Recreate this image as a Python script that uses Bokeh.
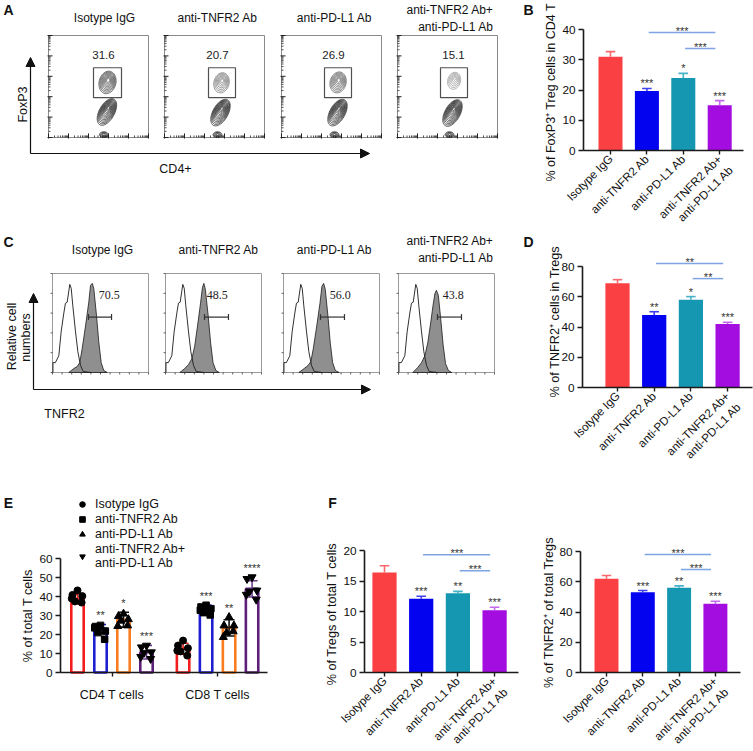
import math
import numpy as np
from bokeh.plotting import figure
from bokeh.models import (Range1d, FixedTicker, Label, Arrow, NormalHead, Legend,
                          LegendItem, LinearAxis)
from bokeh.layouts import row, column
from bokeh.embed import file_html
from bokeh.resources import INLINE
from bokeh.core.properties import value

FONT = "Liberation Sans"
SERIF = "Liberation Serif"


def fs(v):
    return f"{v:.1f}px"


# ------------------------------------------------------------------ data
treatments = ["Isotype IgG", "anti-TNFR2 Ab", "anti-PD-L1 Ab", "anti-TNFR2 Ab+\nanti-PD-L1 Ab"]
bar_colors = ["#fa4043", "#0303f0", "#1597b1", "#a30de0"]
err_colors = ["#f8686c", "#4040ee", "#45b2c8", "#c466ee"]

# Panel A : FoxP3+ gate frequencies and population shapes (decade units)
foxp3_gate_pct = [31.6, 20.7, 26.9, 15.1]
treg_cx = [2.95, 2.85, 2.83, 2.83]
treg_cy = [2.70, 2.68, 2.70, 2.78]
treg_a = [0.56, 0.50, 0.52, 0.42]
treg_b = [0.42, 0.38, 0.40, 0.32]
treg_levels = [9, 7, 8, 6]
treg_color = ["#3a3a3a", "#676767", "#505050", "#8c8c8c"]
tconv_cx = [2.92, 2.80, 2.80, 2.75]
tconv_cy = [1.25, 1.22, 1.22, 1.20]
gate_x0 = [2.25, 2.20, 2.15, 2.15]
gate_x1 = [3.65, 3.55, 3.50, 3.50]

# Panel B
b_mean = [31.0, 19.7, 24.0, 15.0]
b_sd = [1.7, 0.8, 1.5, 1.5]
b_stars = ["", "***", "*", "***"]
cmp_pairs = [(2, 4), (3, 4)]
b_cmp_stars = ["***", "***"]
b_cmp_y = [39.0, 33.7]

# Panel C : TNFR2 histograms (x: % of channel range, y: % of max)
tnfr2_gate_pct = [70.5, 48.5, 56.0, 43.8]
iso_hist_x = [0.5, 0.5, 3, 6.6, 9, 11.8, 13.5, 15.3, 18, 19.5, 21.1, 24, 26.4, 29.2, 32, 40]
iso_hist_y = [0, 10, 10, 17, 41, 60, 70, 71, 89, 85, 68, 41, 21, 7, 1, 0]
tnfr2_hist_x = [
    [17, 22.2, 25.7, 28.4, 30.9, 34.4, 37.8, 39.6, 41.4, 43, 45.8, 48.2, 50.7, 53.4, 57],
    [15, 20, 24, 27.5, 30.5, 33.5, 36.5, 38.5, 40, 41.5, 44.5, 47, 49.5, 52.5, 56],
    [16, 21.5, 25.5, 28.5, 31, 34.5, 38, 40, 41.8, 43.5, 46.3, 48.7, 51.2, 54, 58],
    [15, 20, 24, 27.5, 30.5, 33.5, 36, 38, 39.5, 41.5, 44, 46.5, 49, 52, 55.5],
]
tnfr2_hist_y = [
    [0, 4, 6, 10, 24, 47, 71, 88, 90, 85, 58, 31, 10, 2, 0],
    [0, 4, 8, 14, 27, 48, 70, 86, 90, 84, 57, 30, 10, 2, 0],
    [0, 4, 7, 11, 24, 46, 70, 87, 90, 84, 57, 30, 10, 2, 0],
    [0, 5, 10, 17, 30, 50, 68, 80, 83, 78, 54, 28, 9, 2, 0],
]
c_gate_x0 = [37.5, 40.6, 38.5, 40.6]
c_gate_x1 = [61.5, 65.6, 63.5, 65.6]

# Panel D
d_mean = [69.0, 48.0, 58.0, 42.0]
d_sd = [2.3, 2.1, 2.1, 1.1]
d_stars = ["", "**", "*", "***"]
d_cmp_stars = ["**", "**"]
d_cmp_y = [82.0, 72.0]

# Panel E
e_cells = ["CD4 T cells", "CD8 T cells"]
e_mean = [[38.8, 23.0, 27.8, 10.7], [12.5, 33.5, 23.5, 44.0]]
e_sd = [[2.6, 2.3, 3.9, 3.6], [2.9, 2.0, 4.3, 4.3]]
e_points = [
    [[43.2, 40.8, 40.2, 37.4, 36.8, 38.9],
     [24.8, 24.2, 21.8, 21.0, 17.5, 23.5],
     [30.9, 29.6, 28.0, 27.2, 24.7, 24.4],
     [14.2, 13.3, 10.7, 10.4, 7.2, 8.3]],
    [[16.8, 14.2, 12.8, 11.1, 8.9, 11.5],
     [35.4, 34.5, 33.6, 31.5, 30.3, 32.8],
     [29.1, 24.7, 24.7, 20.9, 21.6, 18.6],
     [50.2, 49.3, 43.2, 42.6, 38.4, 41.0]],
]
e_stars = [["", "**", "*", "***"], ["", "***", "**", "****"]]
e_line_colors = ["#f31d1d", "#1f1fd2", "#fb7c1e", "#5d1f7a"]
e_err_colors = ["#e51f1f", "#1f1fd2", "#111111", "#6b3d8c"]
e_markers = ["circle", "square", "triangle", "inverted_triangle"]
e_marker_size = [7, 6.5, 8, 8]
e_jitter = [0.0, -0.22, 0.21, -0.11, 0.18, -0.25]

# Panel F
f1_mean = [16.4, 12.1, 13.0, 10.2]
f1_sd = [1.1, 0.4, 0.3, 0.5]
f1_stars = ["", "***", "**", "***"]
f1_cmp_stars = ["***", "***"]
f1_cmp_y = [19.3, 16.7]
f2_mean = [62.0, 53.1, 56.0, 45.4]
f2_sd = [2.1, 1.1, 1.3, 1.7]
f2_stars = ["", "***", "**", "***"]
f2_cmp_stars = ["***", "***"]
f2_cmp_y = [78.0, 68.1]

# ------------------------------------------------------------------ layout sizes (px)
wA, wB = 500, 253
h1, h2, h3 = 232, 258, 261
wE, wF1, wF2 = 318, 220, 215


def add_label(p, x, y, text, size, angle=0.0, align="center", baseline="middle",
              bold=False, font=FONT, color="#111111"):
    p.add_layout(Label(x=x, y=y, text=text, angle=angle, text_align=align,
                       text_baseline=baseline, text_font_size=fs(size), text_font=font,
                       text_color=color, text_font_style="bold" if bold else "normal"))


def canvas(w, h, top):
    p = figure(width=w, height=h, x_range=Range1d(0, w), y_range=Range1d(top + h, top),
               x_axis_type=None, y_axis_type=None, min_border=0,
               output_backend="svg", toolbar_location=None, title=None)
    p.outline_line_color = None
    return p


def ellipse(cx, cy, a, b, ang, n=48):
    t = np.linspace(0, 2 * np.pi, n)
    ca, sa = math.cos(ang), math.sin(ang)
    x = cx + a * np.cos(t) * ca - b * np.sin(t) * sa
    y = cy + a * np.cos(t) * sa + b * np.sin(t) * ca
    return x.tolist(), y.tolist()


def arrow(p, x0, y0, x1, y1):
    p.add_layout(Arrow(end=NormalHead(size=9, fill_color="#111", line_color="#111"),
                       x_start=x0, y_start=y0, x_end=x1, y_end=y1,
                       line_color="#111", line_width=1.2))


# ------------------------------------------------------------------ Panel A
pA = canvas(wA, h1, 0)
a_left = [48, 164, 281, 397]
a_title_x = [104, 217, 334]
a_num_x = [2.75, 2.65, 2.6, 2.8]
major = list(range(0, 6))
minor = [d + math.log10(m) for d in range(5) for m in range(2, 10)]
for i in range(4):
    sub = pA.subplot(x_source=Range1d(0, 5), y_source=Range1d(0, 5),
                     x_target=Range1d(a_left[i], a_left[i] + 100),
                     y_target=Range1d(137, 35))
    sub.quad(left=[0], right=[5], bottom=[0], top=[5], fill_color=None,
             line_color="#8a8a8a", line_width=1)
    sub.segment(x0=[-0.05] * len(major), x1=[0.2] * len(major), y0=major, y1=major,
                line_color="#222", line_width=1)
    sub.segment(x0=[0] * len(minor), x1=[0.1] * len(minor), y0=minor, y1=minor,
                line_color="#222", line_width=0.8)
    sub.segment(y0=[-0.05] * len(major), y1=[0.2] * len(major), x0=major, x1=major,
                line_color="#222", line_width=1)
    sub.segment(y0=[0] * len(minor), y1=[0.1] * len(minor), x0=minor, x1=minor,
                line_color="#222", line_width=0.8)
    xs, ys = [], []
    for f in np.linspace(1.0, 0.18, treg_levels[i]):
        ex, ey = ellipse(treg_cx[i] + 0.04 * (1 - f), treg_cy[i] + 0.12 * (1 - f),
                         treg_a[i] * f, treg_b[i] * f, 1.31)
        xs.append(ex); ys.append(ey)
    sub.multi_line(xs=xs, ys=ys, line_color=treg_color[i], line_width=0.7)
    xs, ys = [], []
    for f in np.linspace(1.0, 0.12, 12):
        ex, ey = ellipse(tconv_cx[i] + 0.08 * (1 - f), tconv_cy[i] + 0.22 * (1 - f),
                         0.72 * f, 0.38 * f, 1.05)
        xs.append(ex); ys.append(ey)
    sub.multi_line(xs=xs, ys=ys, line_color="#1e1e1e", line_width=0.7)
    xs, ys = [], []
    for f in np.linspace(1.0, 0.3, 4):
        ex, ey = ellipse(tconv_cx[i] - 0.15, 0.14, 0.22 * f, 0.14 * f, 0.0)
        xs.append(ex); ys.append(ey)
    sub.multi_line(xs=xs, ys=ys, line_color="#1e1e1e", line_width=0.8)
    sub.quad(left=[gate_x0[i]], right=[gate_x1[i]], bottom=[1.95], top=[3.42],
             fill_color=None, line_color="#505050", line_width=1.2)
    sub.text(x=[a_num_x[i]], y=[4.02], text=[f"{foxp3_gate_pct[i]:.1f}"],
             text_align="center", text_baseline="middle", text_font=value(FONT),
             text_font_size=fs(11.5), text_color="#222")
for i in range(3):
    add_label(pA, a_title_x[i], 17, treatments[i], 12)
add_label(pA, 493, 18, treatments[3], 12, align="right")
arrow(pA, 30, 153, 30, 57)
arrow(pA, 30, 153, 369, 153)
add_label(pA, 22, 104, "FoxP3", 12.5, angle=math.pi / 2)
add_label(pA, 175, 168, "CD4+", 12.5)
add_label(pA, 8, 9, "A", 14, bold=True)

# ------------------------------------------------------------------ Panel C
pC = canvas(wA, h2, h1)
c_left = [52, 165, 283, 398]
c_num_x = [59, 54, 59, 57]
for i in range(4):
    sub = pC.subplot(x_source=Range1d(0, 100), y_source=Range1d(0, 100),
                     x_target=Range1d(c_left[i], c_left[i] + 96),
                     y_target=Range1d(372, 273))
    sub.quad(left=[0], right=[100], bottom=[0], top=[100], fill_color=None,
             line_color="#9a9a9a", line_width=1)
    yt = [0, 20, 40, 60, 80, 100]
    sub.segment(x0=[-2] * 6, x1=[0] * 6, y0=yt, y1=yt, line_color="#333", line_width=0.8)
    xt = list(range(0, 101, 10))
    sub.segment(y0=[-2] * len(xt), y1=[0] * len(xt), x0=xt, x1=xt,
                line_color="#333", line_width=0.8)
    sub.patch(x=tnfr2_hist_x[i], y=tnfr2_hist_y[i], fill_color="#8f8f8f",
              line_color="#1a1a1a", line_width=0.8)
    sub.line(x=iso_hist_x, y=iso_hist_y, line_color="#1a1a1a", line_width=0.9)
    sub.segment(x0=[c_gate_x0[i]], x1=[c_gate_x1[i]], y0=[56], y1=[56],
                line_color="#333", line_width=1.2)
    sub.segment(x0=[c_gate_x0[i], c_gate_x1[i]], x1=[c_gate_x0[i], c_gate_x1[i]],
                y0=[53, 53], y1=[59, 59], line_color="#333", line_width=1.2)
    sub.text(x=[c_num_x[i]], y=[78], text=[f"{tnfr2_gate_pct[i]:.1f}"],
             text_align="center", text_baseline="middle", text_font=value(SERIF),
             text_font_size=fs(12), text_color="#222")
c_title_x = [102, 218, 334]
for i in range(3):
    add_label(pC, c_title_x[i], 249, treatments[i], 12)
add_label(pC, 493, 249, treatments[3], 12, align="right")
arrow(pC, 33, 389, 33, 293)
arrow(pC, 33, 389, 370, 389)
add_label(pC, 11, 336, "Relative cell", 12.5, angle=math.pi / 2)
add_label(pC, 25, 337, "numbers", 12.5, angle=math.pi / 2)
add_label(pC, 64, 413, "TNFR2", 12.5)
add_label(pC, 8, 241, "C", 14, bold=True)


# ------------------------------------------------------------------ bar charts
def style_axis(ax):
    ax.axis_line_width = 1.6
    ax.axis_line_color = "#1a1a1a"
    ax.major_tick_line_width = 1.4
    ax.major_tick_line_color = "#1a1a1a"
    ax.minor_tick_line_color = None
    ax.major_tick_in = 0
    ax.major_tick_out = 5
    ax.major_label_text_font = FONT
    ax.major_label_text_font_size = fs(11.8)
    ax.major_label_text_color = "#111111"
    ax.major_label_standoff = 3


def bar_frame(w, h, left, top, fl, fr, zy, kpx, xa, xv, dx, yticks):
    def X(r):
        return xv + (r - xa) / dx

    def Y(r):
        return (zy - r) / kpx

    p = figure(width=w, height=h, x_range=Range1d(X(left), X(left + w)),
               y_range=Range1d(Y(top + h), Y(top)), x_axis_type=None, y_axis_type=None,
               min_border=0, output_backend="svg", toolbar_location=None, title=None)
    p.outline_line_color = None
    yax = LinearAxis(fixed_location=X(fl), ticker=FixedTicker(ticks=yticks),
                     bounds=(0, yticks[-1]))
    style_axis(yax)
    p.add_layout(yax, "left")
    xax = LinearAxis(fixed_location=0, bounds=(X(fl), X(fr)))
    style_axis(xax)
    xax.major_tick_out = 4
    p.add_layout(xax, "below")
    return p, X, Y, xax


def draw_bars(p, xax, kpx, mean, sd, stars, cmp_stars, cmp_y):
    xs = list(range(1, len(mean) + 1))
    tops = [m + s for m, s in zip(mean, sd)]
    p.vbar(x=xs, top=mean, bottom=0, width=0.66, fill_color=bar_colors, line_color=None)
    p.segment(x0=xs, y0=mean, x1=xs, y1=tops, line_color=err_colors, line_width=1.6)
    p.segment(x0=[x - 0.13 for x in xs], y0=tops, x1=[x + 0.13 for x in xs], y1=tops,
              line_color=err_colors, line_width=1.6)
    p.text(x=xs, y=[t + 5 / kpx for t in tops], text=stars, text_align="center",
           text_baseline="alphabetic", text_font=value(FONT), text_font_size=fs(11),
           text_color="#333333")
    p.segment(x0=[a + 0.05 for a, b in cmp_pairs], x1=[b - 0.12 for a, b in cmp_pairs],
              y0=cmp_y, y1=cmp_y, line_color="#7ea4e4", line_width=1.5)
    p.text(x=[(a + b) / 2 - 0.03 for a, b in cmp_pairs], y=[y + 1.5 / kpx for y in cmp_y],
           text=cmp_stars, text_align="center", text_baseline="alphabetic",
           text_font=value(FONT), text_font_size=fs(11), text_color="#333333")
    xax.ticker = FixedTicker(ticks=xs)
    # two-line names get a leading blank line so that their first line sits where
    # a one-line name would, as in the reference
    xax.major_label_overrides = {xs[i]: ("\n" + t if "\n" in t else t)
                                 for i, t in enumerate(treatments)}
    xax.major_label_orientation = math.pi / 4
    xax.major_label_text_font_size = fs(11.6)
    xax.major_label_standoff = 2


# B
pB, XB, YB, xB = bar_frame(wB, h1, wA, 0, 583, 743, 150, 3.025, 610, 1, 36.4,
                           [0, 10, 20, 30, 40])
draw_bars(pB, xB, 3.025, b_mean, b_sd, b_stars, b_cmp_stars, b_cmp_y)
add_label(pB, XB(550), YB(181), "% of FoxP3\u207a Treg cells in CD4 T", 12.5,
          angle=math.pi / 2, align="left")
add_label(pB, XB(528), YB(9), "B", 14, bold=True)

# D
pD, XD, YD, xD = bar_frame(wB, h2, wA, h1, 582, 752, 387, 1.5125, 617, 1, 36.7,
                           [0, 20, 40, 60, 80])
draw_bars(pD, xD, 1.5125, d_mean, d_sd, d_stars, d_cmp_stars, d_cmp_y)
add_label(pD, XD(554), YD(397), "% of TNFR2\u207a cells in Tregs", 12.7,
          angle=math.pi / 2, align="left")
add_label(pD, XD(528), YD(241), "D", 14, bold=True)

# E
topE = h1 + h2
pE, XE, YE, xE = bar_frame(wE, h3, 0, topE, 60, 267, 672, 1.9, 111.5, 0.0, 23.0,
                           [0, 10, 20, 30, 40, 50, 60])
e_gpos = [0.0, 4.59]
e_slot = [-1.5, -0.5, 0.5, 1.5]
items = []
for t in range(4):
    bx = [e_gpos[g] + e_slot[t] for g in range(2)]
    m = [e_mean[g][t] for g in range(2)]
    s = [e_sd[g][t] for g in range(2)]
    pE.vbar(x=bx, top=m, bottom=0, width=0.54, fill_color="white",
            line_color=e_line_colors[t], line_width=2.6)
    lo = [mm - ss for mm, ss in zip(m, s)]
    hi = [mm + ss for mm, ss in zip(m, s)]
    pE.segment(x0=bx, x1=bx, y0=lo, y1=hi, line_color=e_err_colors[t], line_width=1.6)
    pE.segment(x0=[x - 0.24 for x in bx] * 2, x1=[x + 0.24 for x in bx] * 2, y0=lo + hi,
               y1=lo + hi, line_color=e_err_colors[t], line_width=1.6)
    px, py = [], []
    for g in range(2):
        for k, v in enumerate(e_points[g][t]):
            px.append(bx[g] + e_jitter[k])
            py.append(v)
    r = pE.scatter(x=px, y=py, marker=e_markers[t], size=e_marker_size[t],
                   fill_color="#000000", line_color="#000000")
    items.append(LegendItem(label=treatments[t], renderers=[r]))
    sy = [max(max(e_points[g][t]), hi[g]) + 9 / 1.9 for g in range(2)]
    pE.text(x=bx, y=sy, text=[e_stars[g][t] for g in range(2)], text_align="center",
            text_baseline="alphabetic", text_font=value(FONT), text_font_size=fs(11),
            text_color="#333333")
xE.ticker = FixedTicker(ticks=e_gpos)
xE.major_label_overrides = {e_gpos[i]: e_cells[i] for i in range(2)}
xE.major_label_text_font_size = fs(12.5)
xE.major_label_standoff = 11
legend = Legend(items=items, location=(75, 751 - 570),
                border_line_color=None, background_fill_alpha=0, padding=0, margin=0,
                spacing=1, glyph_width=14, glyph_height=14, label_standoff=6,
                label_height=14, label_text_font=FONT, label_text_font_size=fs(12.5),
                label_text_color="#111111")
pE.add_layout(legend)
add_label(pE, XE(27), YE(613.5), "% of  total T cells", 12.7, angle=math.pi / 2)
add_label(pE, XE(8), YE(502), "E", 14, bold=True)

# F left
pF1, XF1, YF1, xF1 = bar_frame(wF1, h3, wE, topE, 364, 518, 672, 6.1, 384, 1, 36.7,
                               [0, 5, 10, 15, 20])
draw_bars(pF1, xF1, 6.1, f1_mean, f1_sd, f1_stars, f1_cmp_stars, f1_cmp_y)
add_label(pF1, XF1(331), YF1(613.5), "% of Tregs of total T cells", 12.7, angle=math.pi / 2)
add_label(pF1, XF1(332), YF1(502), "F", 14, bold=True)

# F right
pF2, XF2, YF2, xF2 = bar_frame(wF2, h3, wE + wF1, topE, 580, 740, 672, 1.5125, 606, 1,
                               36.3, [0, 20, 40, 60, 80])
draw_bars(pF2, xF2, 1.5125, f2_mean, f2_sd, f2_stars, f2_cmp_stars, f2_cmp_y)
add_label(pF2, XF2(548), YF2(612), "% of TNFR2\u207a of total Tregs", 12.7, angle=math.pi / 2)

layout = column(row(pA, pB), row(pC, pD), row(pE, pF1, pF2))
open("out.html", "w").write(file_html(layout, INLINE))
